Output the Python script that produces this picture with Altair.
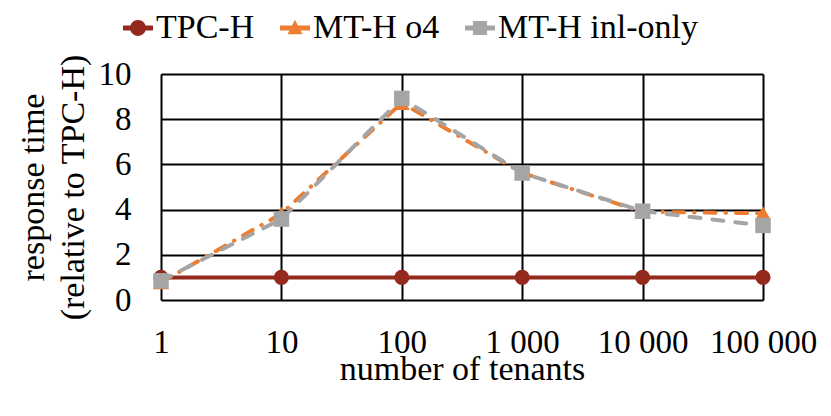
import altair as alt
import pandas as pd

# ---- data ----
tenants = ["1", "10", "100", "1 000", "10 000", "100 000"]
series_names = ["TPC-H", "MT-H o4", "MT-H inl-only"]
tpch = [1, 1, 1, 1, 1, 1]
mth_o4 = [0.78, 3.82, 8.72, 5.62, 3.90, 3.84]
mth_inl = [0.85, 3.58, 8.92, 5.62, 3.93, 3.30]
colors = ["#942A1E", "#ED7D31", "#A5A5A5"]

FONT = "Liberation Serif"

rows = []
for name, vals in zip(series_names, [tpch, mth_o4, mth_inl]):
    for t, v in zip(tenants, vals):
        rows.append({"series": name, "tenants": t, "value": v})
df = pd.DataFrame(rows)

x_axis = alt.Axis(
    title="number of tenants",
    grid=True, gridColor="black", gridWidth=2,
    domain=False, ticks=False,
    labelAngle=0, labelFont=FONT, labelFontSize=33, labelColor="black",
    labelPadding=26, labelOverlap=False, labelBound=False, labelFlush=False,
    titleFont=FONT, titleFontSize=34, titleFontWeight="normal", titleColor="black",
    titlePadding=-7,
)
y_axis = alt.Axis(
    title=["response time", "(relative to TPC-H)"],
    values=[0, 2, 4, 6, 8, 10],
    grid=True, gridColor="black", gridWidth=2,
    domain=False, ticks=False,
    labelFont=FONT, labelFontSize=33, labelColor="black", labelPadding=30,
    labelFlush=False,
    titleFont=FONT, titleFontSize=34, titleFontWeight="normal", titleColor="black",
    titleLineHeight=40, titlePadding=8,
)
x = alt.X("tenants:N", sort=tenants, scale=alt.Scale(type="point", padding=0), axis=x_axis)
y_scale = alt.Scale(domain=[0, 10], nice=False, zero=True)
y = alt.Y("value:Q", scale=y_scale, axis=y_axis)

base = alt.Chart(df)

dashes = [[1, 0], [11, 10, 0.5, 10], [11, 12]]
shapes = ["circle", "triangle-up", "square"]
sizes = [230, 260, 240]

# legend symbols: line with marker (Excel style)
bar = "M-1,-0.17H1V0.17H-1Z"
legend_paths = [
    bar + "M0.53,0A0.53,0.53,0,1,1,-0.53,0A0.53,0.53,0,1,1,0.53,0Z",
    bar + "M0,-0.55L0.5,0.42L-0.5,0.42Z",
    bar + "M-0.47,-0.47H0.47V0.47H-0.47Z",
]
leg = alt.Legend(
    title=None,
    orient="none",
    legendX=-40,
    legendY=-63,
    direction="horizontal",
    labelFont=FONT,
    labelFontSize=34,
    labelColor="black",
    labelOffset=1,
    labelLimit=500,
    columnPadding=23,
    symbolSize=900,
    symbolStrokeWidth=0,
    symbolOpacity=1,
)
color = alt.Color("series:N", scale=alt.Scale(domain=series_names, range=colors), legend=leg)

layers = []
for name, dash, shp, sz in zip(series_names, dashes, shapes, sizes):
    sub = base.transform_filter(alt.datum.series == name)
    line_kwargs = dict(strokeWidth=4, strokeCap="round")
    if name != "TPC-H":
        line_kwargs["strokeDash"] = dash
    layers.append(sub.mark_line(**line_kwargs).encode(x=x, y=y, color=color))
    layers.append(
        sub.mark_point(filled=True, shape=shp, size=sz, opacity=1).encode(x=x, y=y, color=color)
    )

# legend carrier: its marks sit below the plot and are clipped away
legend_layer = (
    base.transform_calculate(hidden="-100")
    .mark_point(filled=True, size=900, clip=True)
    .encode(
        x=x,
        y=alt.Y("hidden:Q", scale=y_scale, axis=y_axis),
        color=color,
        shape=alt.Shape("series:N", scale=alt.Scale(domain=series_names, range=legend_paths), legend=leg),
    )
)

chart = (
    alt.layer(*layers, legend_layer)
    .properties(
        width=602,
        height=226,
        padding={"left": 153, "top": 66, "right": 60, "bottom": 100},
        autosize=alt.AutoSizeParams(type="none"),
    )
    .configure_view(strokeWidth=0)
    .configure(background="white")
)

chart.save("out.html", embed_options={"renderer": "svg", "actions": False})
